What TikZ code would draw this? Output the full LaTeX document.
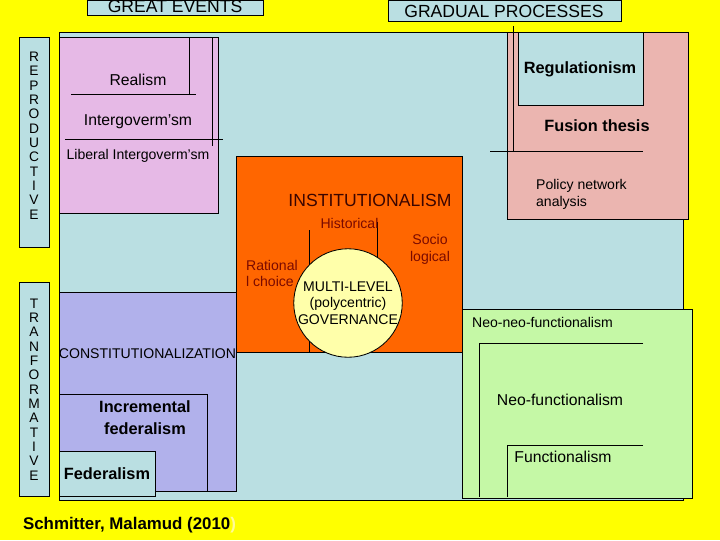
\documentclass[tikz,border=0pt]{standalone}
\usepackage{fontspec}
\setmainfont{Liberation Sans}
\definecolor{bgyellow}{HTML}{FFFF00}
\definecolor{paleblue}{HTML}{BADFE2}
\definecolor{mauve}{HTML}{E6B9E6}
\definecolor{instorange}{HTML}{FF6600}
\definecolor{lavender}{HTML}{B1B1EB}
\definecolor{rosepink}{HTML}{EBB5B0}
\definecolor{palegreen}{HTML}{C5F8A6}
\definecolor{paleyellow}{HTML}{FFFFAA}
\definecolor{rustred}{HTML}{7A0A00}
\definecolor{darkbrown}{HTML}{3A0500}
\begin{document}
\begin{tikzpicture}[x=0.025cm, y=-0.025cm, line width=0.6pt,
  big/.style={font=\fontsize{12.5}{14}\selectfont},
  mid/.style={font=\fontsize{11.2}{13}\selectfont},
  midbold/.style={font=\fontsize{11.6}{15.6}\selectfont\bfseries},
  small/.style={font=\fontsize{10}{12}\selectfont},
  letters/.style={align=center, font=\fontsize{9.8}{10.2}\selectfont}]
% background
\fill[bgyellow] (0,0) rectangle (720,540);
\useasboundingbox (0,0) rectangle (720,540);
% headings
\draw[fill=paleblue] (87,0) rectangle (263,15);
\begin{scope}
\clip (0,0) rectangle (720,540);
\node[big] (great) at (175,6) {GREAT EVENTS};
\end{scope}
\draw[fill=paleblue] (388,0) rectangle (621,21);
\node[big] (gradual) at (504,11) {GRADUAL PROCESSES};
% side labels
\draw[fill=paleblue] (19,37) rectangle (49,247);
\node[letters] (repro) at (34,135.5) {R\\E\\P\\R\\O\\D\\U\\C\\T\\I\\V\\E};
\draw[fill=paleblue] (19,282) rectangle (49,496);
\node[letters] (transf) at (34,389.5) {T\\R\\A\\N\\F\\O\\R\\M\\A\\T\\I\\V\\E};
% main field
\draw[fill=paleblue] (59,32) rectangle (683,500);
% realism corner
\draw[fill=mauve] (59,37) rectangle (218,213);
\draw (189,37) -- (189,94.5);
\draw (71,94.5) -- (196,94.5);
\draw (212,37) -- (212,146);
\draw (65,139) -- (223,139);
\node[mid] (realism) at (138,80) {Realism};
\node[mid] (intergov) at (138,122) {Intergoverm'sm};
\node[small] (libinter) at (138,156) {Liberal Intergoverm'sm};
% fusion corner
\draw[fill=rosepink] (507,32) rectangle (688,219);
\draw[fill=paleblue] (518,32) rectangle (643,105);
\draw (513,26) -- (513,151);
\draw (490,151) -- (643,151);
\node[midbold] (regul) at (580,69) {Regulationism};
\node[midbold] (fusion) at (597,126) {Fusion thesis};
\node[small, anchor=west, align=left] (policy) at (531,194.5) {Policy network\\analysis};
% constitutionalization corner
\draw[fill=lavender] (59,292) rectangle (236,491);
\draw (59,394) -- (207,394) -- (207,491);
\draw[fill=paleblue] (59,451) rectangle (155,496);
\node[small] (constit) at (147.5,354) {CONSTITUTIONALIZATION};
\node[midbold, align=center] (incfed) at (145,418) {Incremental\\federalism};
\node[midbold] (federal) at (107,474) {Federalism};
% functionalism corner
\draw[fill=palegreen] (462,309) rectangle (692,498);
\draw (643,343) -- (479,343) -- (479,497);
\draw (643,445) -- (507,445) -- (507,497);
\node[small, anchor=west] (neoneo) at (467,322) {Neo-neo-functionalism};
\node[mid] (neofunc) at (560,400) {Neo-functionalism};
\node[mid] (func) at (563,457) {Functionalism};
% institutionalism
\draw[fill=instorange] (236,156) rectangle (462,352);
\draw (309,230) -- (309,352);
\draw (377,222) -- (377,280);
\node[big, darkbrown] (instit) at (370,200) {INSTITUTIONALISM};
\node[small, rustred] (histor) at (349.5,223) {Historical};
\node[small, rustred, anchor=west, align=left] (rational) at (241,273.5) {Rational\\l choice};
\node[small, rustred, align=center] (socio) at (430,249) {Socio\\logical};
\node[draw, circle, fill=paleyellow, minimum size=100*0.025cm, inner sep=0pt,
  align=center, font=\fontsize{10}{11.7}\selectfont] (mlg) at (348,303)
  {MULTI-LEVEL\\(polycentric)\\GOVERNANCE};
% source
\node[font=\fontsize{12}{14}\selectfont\bfseries, anchor=west] (source) at (18,525)
  {Schmitter, Malamud (2010\textcolor{yellow!40!white}{)}};
\end{tikzpicture}
\end{document}
